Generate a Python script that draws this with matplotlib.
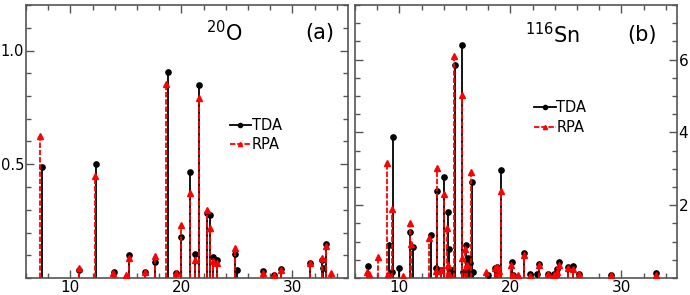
import matplotlib
matplotlib.use("Agg")
import matplotlib.pyplot as plt
from matplotlib.ticker import MultipleLocator, FixedLocator

# ---------------- data: panel (a) 20O ----------------
o_tda_e = [7.45, 10.8, 12.34, 13.9, 15.3, 16.76, 17.6, 18.8, 19.52, 20.0, 20.75, 21.26,
           21.6, 22.3, 22.55, 22.8, 23.24, 24.85, 25.0, 27.3, 28.3, 29.0, 31.6, 32.66,
           32.76, 33.03]
o_tda_s = [0.489, 0.035, 0.50, 0.025, 0.10, 0.025, 0.071, 0.906, 0.02, 0.181, 0.464, 0.104,
           0.848, 0.286, 0.276, 0.094, 0.081, 0.107, 0.035, 0.032, 0.015, 0.041, 0.068, 0.079,
           0.043, 0.148]
o_rpa_e = [7.23, 10.8, 12.25, 13.85, 15.0, 15.25, 16.76, 17.6, 18.63, 19.52, 20.0, 20.75,
           21.26, 21.6, 22.3, 22.55, 22.8, 23.24, 24.8, 27.3, 28.3, 29.0, 31.6, 32.66,
           33.03, 33.5]
o_rpa_s = [0.626, 0.043, 0.45, 0.02, 0.012, 0.087, 0.025, 0.097, 0.854, 0.02, 0.235, 0.373,
           0.08, 0.79, 0.30, 0.22, 0.076, 0.065, 0.13, 0.022, 0.015, 0.036, 0.067, 0.087,
           0.14, 0.02]

# ---------------- data: panel (b) 116Sn ----------------
sn_tda_e = [7.17, 9.1, 9.32, 9.46, 9.97, 10.96, 11.2, 12.8, 13.28, 13.35, 13.74, 14.03,
            14.4, 14.48, 14.7, 15.0, 15.65, 15.74, 16.0, 16.15, 16.34, 16.55, 16.64, 17.98,
            18.58, 18.8, 19.18, 20.1, 20.2, 21.18, 21.8, 22.38, 22.56, 23.4, 23.9, 24.2,
            24.4, 25.2, 25.6, 26.2, 29.1, 33.08]
sn_tda_s = [0.34, 0.91, 0.17, 3.88, 0.28, 1.26, 0.86, 1.18, 0.27, 2.40, 0.22, 2.78,
            1.80, 0.79, 0.22, 5.85, 6.40, 0.17, 0.91, 0.54, 0.40, 2.65, 0.17, 0.08,
            0.27, 0.31, 2.97, 0.43, 0.07, 0.68, 0.10, 0.10, 0.38, 0.10, 0.10, 0.24,
            0.43, 0.31, 0.34, 0.10, 0.08, 0.13]
sn_rpa_e = [7.08, 7.3, 8.1, 8.92, 9.0, 9.32, 10.3, 10.96, 11.05, 12.69, 13.3, 13.35,
            13.74, 14.0, 14.25, 14.4, 14.5, 14.9, 15.6, 15.65, 15.9, 16.13, 16.49, 17.84,
            18.58, 18.8, 18.94, 19.12, 20.02, 20.2, 20.67, 21.18, 21.8, 22.56, 23.4, 23.9,
            24.2, 24.4, 25.2, 25.6, 26.2, 29.1, 33.08]
sn_rpa_s = [0.17, 0.11, 0.57, 3.15, 0.11, 1.89, 0.05, 1.52, 0.93, 1.11, 0.20, 3.03,
            0.22, 2.30, 1.37, 0.36, 0.11, 6.10, 5.03, 0.54, 0.79, 0.36, 2.92, 0.17,
            0.27, 0.31, 0.20, 2.40, 0.36, 0.07, 0.08, 0.63, 0.05, 0.36, 0.10, 0.08,
            0.16, 0.36, 0.28, 0.24, 0.10, 0.08, 0.08]

x_ticks = [10, 20, 30]
a_yticks = [0.5, 1.0]
b_yticks = [2, 4, 6]

plt.rcParams['font.family'] = ['DejaVu Sans']
plt.rcParams['mathtext.fontset'] = 'dejavusans'

fig = plt.figure(figsize=(6.9, 2.95), dpi=100)
axA = fig.add_axes([26/690, 1-278/295, 322/690, 273/295])
axB = fig.add_axes([355/690, 1-278/295, 322/690, 273/295])

spc = '#555555'

def draw(ax, te, ts, re, rs):
    ax.vlines(te, 0, ts, colors='black', linewidth=1.3, zorder=2)
    ax.plot(te, ts, 'o', color='black', markersize=3.8, zorder=3)
    ax.vlines(re, 0, rs, colors='red', linewidth=1.3, linestyles=(0, (3, 1)), zorder=4)
    ax.plot(re, rs, '^', color='red', markersize=4.2, zorder=5)
    # legend proxies
    l1, = ax.plot([], [], '-o', color='black', linewidth=1.3, markersize=3)
    l2, = ax.plot([], [], '--^', color='red', linewidth=1.3, markersize=3, dashes=(3, 1))
    return l1, l2

def style(ax):
    for s in ax.spines.values():
        s.set_color(spc)
        s.set_linewidth(1.2)
    ax.set_xlim(6, 35)
    ax.xaxis.set_major_locator(FixedLocator(x_ticks))
    ax.xaxis.set_minor_locator(MultipleLocator(2))
    ax.tick_params(which='both', direction='in', top=True, bottom=True, left=True, right=True,
                   color=spc, width=1.0)
    ax.tick_params(which='major', length=6, labelsize=11)
    ax.tick_params(which='minor', length=3.5)
    ax.tick_params(axis='x', pad=1.5)

l1, l2 = draw(axA, o_tda_e, o_tda_s, o_rpa_e, o_rpa_s)
style(axA)
axA.set_ylim(0, 1.2)
axA.yaxis.set_major_locator(FixedLocator(a_yticks))
axA.yaxis.set_minor_locator(MultipleLocator(0.1))
axA.tick_params(axis='y', labelleft=True, labelright=False, pad=1.5, labelsize=10.5)
axA.text((206-26)/322, 1-28/273, '$^{20}$O', transform=axA.transAxes, fontsize=15,
         ha='left', va='center')
axA.text((334-26)/322, 1-28/273, '(a)', transform=axA.transAxes, fontsize=15,
         ha='right', va='center')
axA.legend([l1, l2], ['TDA', 'RPA'], loc='center left', bbox_to_anchor=(0.632, 0.524),
           frameon=False, fontsize=10.5, handlelength=1.5, handletextpad=0.05,
           borderpad=0, borderaxespad=0, labelspacing=0.3)

m1, m2 = draw(axB, sn_tda_e, sn_tda_s, sn_rpa_e, sn_rpa_s)
style(axB)
axB.set_ylim(0, 7.5)
axB.yaxis.set_major_locator(FixedLocator(b_yticks))
axB.yaxis.set_minor_locator(MultipleLocator(0.5))
axB.tick_params(axis='y', labelleft=False, labelright=True, pad=1)
axB.text(170/322, 1-30/273, '$^{116}$Sn', transform=axB.transAxes, fontsize=15,
         ha='left', va='center')
axB.text(302/322, 1-30/273, '(b)', transform=axB.transAxes, fontsize=15,
         ha='right', va='center')
axB.legend([m1, m2], ['TDA', 'RPA'], loc='center left', bbox_to_anchor=(0.555, 0.588),
           frameon=False, fontsize=10.5, handlelength=1.5, handletextpad=0.05,
           borderpad=0, borderaxespad=0, labelspacing=0.3)

fig.savefig('out.png', dpi=100)
